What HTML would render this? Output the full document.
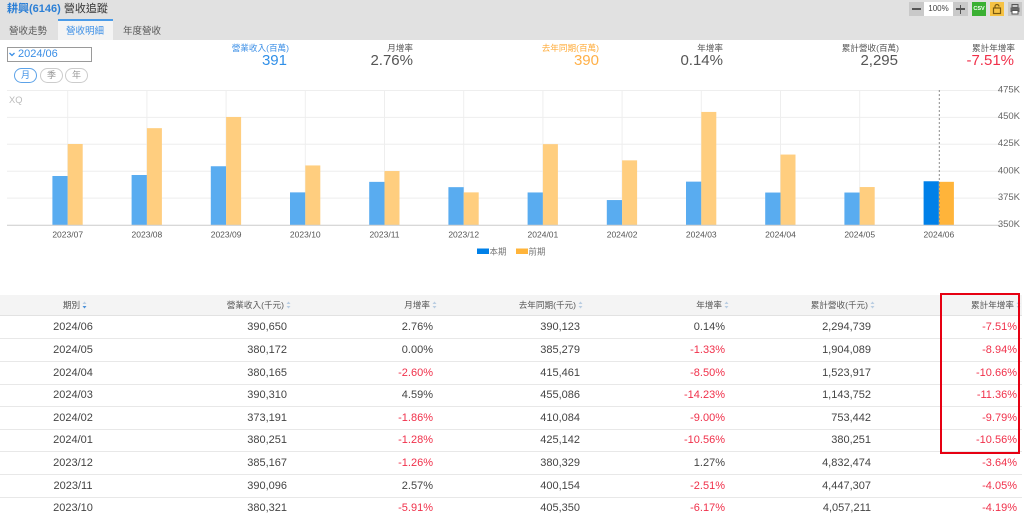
<!DOCTYPE html>
<html><head><meta charset="utf-8">
<style>
*{margin:0;padding:0;box-sizing:border-box}
html,body{width:1024px;height:518px;overflow:hidden;background:#fff}
body{position:relative;font-family:"Liberation Sans","Noto Sans CJK TC",sans-serif;color:#444}
.abs{position:absolute;white-space:nowrap}
.hdr{position:absolute;left:0;top:0;width:1024px;height:40px;background:#e1e1e1}
.lbl{position:absolute;font-size:8.6px;line-height:12px;text-align:right;width:160px;white-space:nowrap}
.val{position:absolute;font-size:15px;line-height:18px;text-align:right;width:160px;white-space:nowrap}
.row{position:absolute;left:0;width:1022px;height:22px;font-size:11px;line-height:22px}
.sep{position:absolute;left:0;width:1022px;height:1px;background:#e8e8e8}
.c{position:absolute;top:0;width:140px;text-align:right}
.r{color:#f0304a}
.th{position:absolute;top:0;width:160px;text-align:right;font-size:8.6px;line-height:21px;color:#555}
.si{display:inline-block;width:5px;height:8px;margin-left:2px;vertical-align:-1px}
.pill{position:absolute;top:68px;width:23px;height:15px;border:1px solid #ccc;border-radius:8px;font-size:9px;line-height:13px;text-align:center;color:#999}
</style></head><body>

<div class="hdr"></div>
<div class="abs" style="left:7px;top:2px;font-size:11px;line-height:14px"><span style="color:#2b7fd6;font-weight:bold">耕興(6146)</span> <span style="color:#333">營收追蹤</span></div>
<!-- tabs -->
<div class="abs" style="left:58px;top:19px;width:55px;height:21px;background:#f4f4f4;border-top:2px solid #4a9be8"></div>
<div class="abs" style="left:9px;top:25px;font-size:9.5px;line-height:13px;color:#555">營收走勢</div>
<div class="abs" style="left:66px;top:25px;font-size:9.5px;line-height:13px;color:#3a8ee6">營收明細</div>
<div class="abs" style="left:123px;top:25px;font-size:9.5px;line-height:13px;color:#555">年度營收</div>

<!-- toolbar -->
<div class="abs" style="left:909px;top:2px;width:15px;height:14px;background:#c9c9c9"></div>
<div class="abs" style="left:912px;top:8px;width:9px;height:1.5px;background:#555"></div>
<div class="abs" style="left:924px;top:2px;width:29px;height:14px;background:#fff;font-size:8px;line-height:14px;text-align:center;color:#444">100%</div>
<div class="abs" style="left:953px;top:2px;width:15px;height:14px;background:#c9c9c9"></div>
<div class="abs" style="left:956px;top:8.3px;width:9px;height:1.5px;background:#555"></div>
<div class="abs" style="left:959.8px;top:4.5px;width:1.5px;height:9px;background:#555"></div>
<div class="abs" style="left:972px;top:2px;width:14px;height:14px;background:#3bb033;color:#fff;font-size:5.5px;font-weight:bold;line-height:14px;text-align:center">CSV</div>
<div class="abs" style="left:990px;top:2px;width:14px;height:14px;background:#f6c244"></div>
<svg class="abs" style="left:990px;top:2px" width="14" height="14"><path d="M5 6V4.5a2 2 0 0 1 4 0" fill="none" stroke="#7a5a10" stroke-width="1.2"/><rect x="3.5" y="6" width="7" height="5.5" fill="none" stroke="#7a5a10" stroke-width="1.2"/></svg>
<div class="abs" style="left:1008px;top:2px;width:14px;height:14px;background:#c9c9c9"></div>
<svg class="abs" style="left:1008px;top:2px" width="14" height="14"><rect x="4" y="2.5" width="6" height="3" fill="none" stroke="#555"/><rect x="2.5" y="5.5" width="9" height="4.5" fill="#666"/><rect x="4" y="8.5" width="6" height="3.5" fill="#fff" stroke="#555"/></svg>

<!-- dropdown -->
<div class="abs" style="left:7px;top:47px;width:85px;height:15px;border:1px solid #9a9a9a;background:#fff"></div>
<svg class="abs" style="left:9px;top:52px" width="6" height="5"><path d="M0.5 1L3 3.5L5.5 1" fill="none" stroke="#3a8ee6" stroke-width="1.3"/></svg>
<div class="abs" style="left:18px;top:47px;font-size:11px;line-height:15px;color:#3a8ee6">2024/06</div>
<div class="pill" style="left:14px;border-color:#5ca2e8;color:#3a8ee6">月</div>
<div class="pill" style="left:40px">季</div>
<div class="pill" style="left:65px">年</div>

<!-- stats -->
<div class="lbl" style="left:129px;top:42px;color:#3a8ee6">營業收入(百萬)</div>
<div class="val" style="left:127px;top:52px;color:#2f8fe8">391</div>
<div class="lbl" style="left:253px;top:42px;color:#555">月增率</div>
<div class="val" style="left:253px;top:52px;color:#555">2.76%</div>
<div class="lbl" style="left:439px;top:42px;color:#ffac3a">去年同期(百萬)</div>
<div class="val" style="left:439px;top:52px;color:#ffb048">390</div>
<div class="lbl" style="left:563px;top:42px;color:#555">年增率</div>
<div class="val" style="left:563px;top:52px;color:#555">0.14%</div>
<div class="lbl" style="left:739px;top:42px;color:#555">累計營收(百萬)</div>
<div class="val" style="left:738px;top:52px;color:#555">2,295</div>
<div class="lbl" style="left:855px;top:42px;color:#555">累計年增率</div>
<div class="val" style="left:854px;top:52px;color:#f0304a">-7.51%</div>

<!-- chart -->
<svg class="abs" style="left:0;top:0" width="1024" height="260" font-family="Liberation Sans, Noto Sans CJK TC, sans-serif">
<g stroke="#eeeeee" stroke-width="1">
<line x1="7" y1="90.5" x2="1000" y2="90.5"/>
<line x1="7" y1="117.4" x2="1000" y2="117.4"/>
<line x1="7" y1="144.3" x2="1000" y2="144.3"/>
<line x1="7" y1="171.2" x2="1000" y2="171.2"/>
<line x1="7" y1="198.1" x2="1000" y2="198.1"/>
<line x1="67.7" y1="90" x2="67.7" y2="225"/>
<line x1="146.9" y1="90" x2="146.9" y2="225"/>
<line x1="226.1" y1="90" x2="226.1" y2="225"/>
<line x1="305.3" y1="90" x2="305.3" y2="225"/>
<line x1="384.5" y1="90" x2="384.5" y2="225"/>
<line x1="463.7" y1="90" x2="463.7" y2="225"/>
<line x1="542.9" y1="90" x2="542.9" y2="225"/>
<line x1="622.1" y1="90" x2="622.1" y2="225"/>
<line x1="701.3" y1="90" x2="701.3" y2="225"/>
<line x1="780.5" y1="90" x2="780.5" y2="225"/>
<line x1="859.7" y1="90" x2="859.7" y2="225"/>
</g>
<text x="9" y="103" font-size="9.3" fill="#bbb">XQ</text>
<g fill="#59acf0">
<rect x="52.4" y="176" width="15.3" height="49"/>
<rect x="131.6" y="175" width="15.3" height="50"/>
<rect x="210.8" y="166.25" width="15.3" height="58.75"/>
<rect x="290" y="192.37" width="15.3" height="32.63"/>
<rect x="369.2" y="181.86" width="15.3" height="43.14"/>
<rect x="448.4" y="187.16" width="15.3" height="37.84"/>
<rect x="527.6" y="192.45" width="15.3" height="32.55"/>
<rect x="606.8" y="200.05" width="15.3" height="24.95"/>
<rect x="686" y="181.63" width="15.3" height="43.37"/>
<rect x="765.2" y="192.54" width="15.3" height="32.46"/>
<rect x="844.4" y="192.53" width="15.3" height="32.47"/>
</g>
<rect x="923.6" y="181.26" width="15.3" height="43.74" fill="#0080e8"/>
<g fill="#ffce7f">
<rect x="67.7" y="143.98" width="15" height="81.02"/>
<rect x="146.9" y="128.16" width="15" height="96.84"/>
<rect x="226.1" y="116.97" width="15" height="108.03"/>
<rect x="305.3" y="165.44" width="15" height="59.56"/>
<rect x="384.5" y="171.03" width="15" height="53.97"/>
<rect x="463.7" y="192.37" width="15" height="32.63"/>
<rect x="542.9" y="144.15" width="15" height="80.85"/>
<rect x="622.1" y="160.35" width="15" height="64.65"/>
<rect x="701.3" y="111.93" width="15" height="113.07"/>
<rect x="780.5" y="154.56" width="15" height="70.44"/>
<rect x="859.7" y="187.04" width="15" height="37.96"/>
</g>
<rect x="938.9" y="181.82" width="15" height="43.18" fill="#ffb43a"/>
<line x1="939.3" y1="90" x2="939.3" y2="225" stroke="#8a8a8a" stroke-width="1" stroke-dasharray="2,2"/>
<line x1="7" y1="225.3" x2="1000" y2="225.3" stroke="#cccccc" stroke-width="1"/>
<g font-size="9.5" fill="#666" text-anchor="end">
<text x="1020" y="92.5">475K</text>
<text x="1020" y="119">450K</text>
<text x="1020" y="145.8">425K</text>
<text x="1020" y="173.5">400K</text>
<text x="1020" y="200.2">375K</text>
<text x="1020" y="226.8">350K</text>
</g>
<g font-size="8.5" fill="#555" text-anchor="middle">
<text x="67.7" y="237.5">2023/07</text>
<text x="146.9" y="237.5">2023/08</text>
<text x="226.1" y="237.5">2023/09</text>
<text x="305.3" y="237.5">2023/10</text>
<text x="384.5" y="237.5">2023/11</text>
<text x="463.7" y="237.5">2023/12</text>
<text x="542.9" y="237.5">2024/01</text>
<text x="622.1" y="237.5">2024/02</text>
<text x="701.3" y="237.5">2024/03</text>
<text x="780.5" y="237.5">2024/04</text>
<text x="859.7" y="237.5">2024/05</text>
<text x="938.9" y="237.5">2024/06</text>
</g>
<rect x="477" y="248.5" width="12" height="5.5" fill="#0080e8"/>
<text x="489.5" y="254.5" font-size="8.5" fill="#777">本期</text>
<rect x="516" y="248.5" width="12" height="5.5" fill="#ffb43a"/>
<text x="528.5" y="254.5" font-size="8.5" fill="#777">前期</text>
</svg>

<!-- table header -->
<div class="abs" style="left:0;top:295px;width:1022px;height:21px;background:#f4f4f4;border-bottom:1px solid #e2e2e2"></div>
<div class="abs" style="left:0;top:295px;width:1022px;height:21px">
<div class="th" style="left:0;width:150px;text-align:center">期別<svg class="si" viewBox="0 0 5 8"><path d="M2.5 0.5L4.5 3H0.5Z" fill="#b9cde2"/><path d="M2.5 7.5L4.5 5H0.5Z" fill="#4a90d9"/></svg></div>
<div class="th" style="left:131px">營業收入(千元)<svg class="si" viewBox="0 0 5 8"><path d="M2.5 0.5L4.5 3H0.5Z" fill="#b9cde2"/><path d="M2.5 7.5L4.5 5H0.5Z" fill="#b9cde2"/></svg></div>
<div class="th" style="left:277px">月增率<svg class="si" viewBox="0 0 5 8"><path d="M2.5 0.5L4.5 3H0.5Z" fill="#b9cde2"/><path d="M2.5 7.5L4.5 5H0.5Z" fill="#b9cde2"/></svg></div>
<div class="th" style="left:423px">去年同期(千元)<svg class="si" viewBox="0 0 5 8"><path d="M2.5 0.5L4.5 3H0.5Z" fill="#b9cde2"/><path d="M2.5 7.5L4.5 5H0.5Z" fill="#b9cde2"/></svg></div>
<div class="th" style="left:569px">年增率<svg class="si" viewBox="0 0 5 8"><path d="M2.5 0.5L4.5 3H0.5Z" fill="#b9cde2"/><path d="M2.5 7.5L4.5 5H0.5Z" fill="#b9cde2"/></svg></div>
<div class="th" style="left:715px">累計營收(千元)<svg class="si" viewBox="0 0 5 8"><path d="M2.5 0.5L4.5 3H0.5Z" fill="#b9cde2"/><path d="M2.5 7.5L4.5 5H0.5Z" fill="#b9cde2"/></svg></div>
<div class="th" style="left:861px">累計年增率<svg class="si" viewBox="0 0 5 8"><path d="M2.5 0.5L4.5 3H0.5Z" fill="#b9cde2"/><path d="M2.5 7.5L4.5 5H0.5Z" fill="#b9cde2"/></svg></div>
</div>

<!-- rows -->
<div class="row" style="top:316.3px"><div class="c" style="left:0;width:146px;text-align:center">2024/06</div><div class="c" style="left:147px">390,650</div><div class="c" style="left:293px">2.76%</div><div class="c" style="left:440px">390,123</div><div class="c" style="left:585px">0.14%</div><div class="c" style="left:731px">2,294,739</div><div class="c r" style="left:877px">-7.51%</div></div>
<div class="sep" style="top:338.3px"></div>
<div class="row" style="top:338.9px"><div class="c" style="left:0;width:146px;text-align:center">2024/05</div><div class="c" style="left:147px">380,172</div><div class="c" style="left:293px">0.00%</div><div class="c" style="left:440px">385,279</div><div class="c r" style="left:585px">-1.33%</div><div class="c" style="left:731px">1,904,089</div><div class="c r" style="left:877px">-8.94%</div></div>
<div class="sep" style="top:360.9px"></div>
<div class="row" style="top:361.5px"><div class="c" style="left:0;width:146px;text-align:center">2024/04</div><div class="c" style="left:147px">380,165</div><div class="c r" style="left:293px">-2.60%</div><div class="c" style="left:440px">415,461</div><div class="c r" style="left:585px">-8.50%</div><div class="c" style="left:731px">1,523,917</div><div class="c r" style="left:877px">-10.66%</div></div>
<div class="sep" style="top:383.5px"></div>
<div class="row" style="top:384.1px"><div class="c" style="left:0;width:146px;text-align:center">2024/03</div><div class="c" style="left:147px">390,310</div><div class="c" style="left:293px">4.59%</div><div class="c" style="left:440px">455,086</div><div class="c r" style="left:585px">-14.23%</div><div class="c" style="left:731px">1,143,752</div><div class="c r" style="left:877px">-11.36%</div></div>
<div class="sep" style="top:406.1px"></div>
<div class="row" style="top:406.7px"><div class="c" style="left:0;width:146px;text-align:center">2024/02</div><div class="c" style="left:147px">373,191</div><div class="c r" style="left:293px">-1.86%</div><div class="c" style="left:440px">410,084</div><div class="c r" style="left:585px">-9.00%</div><div class="c" style="left:731px">753,442</div><div class="c r" style="left:877px">-9.79%</div></div>
<div class="sep" style="top:428.7px"></div>
<div class="row" style="top:429.3px"><div class="c" style="left:0;width:146px;text-align:center">2024/01</div><div class="c" style="left:147px">380,251</div><div class="c r" style="left:293px">-1.28%</div><div class="c" style="left:440px">425,142</div><div class="c r" style="left:585px">-10.56%</div><div class="c" style="left:731px">380,251</div><div class="c r" style="left:877px">-10.56%</div></div>
<div class="sep" style="top:451.3px"></div>
<div class="row" style="top:451.9px"><div class="c" style="left:0;width:146px;text-align:center">2023/12</div><div class="c" style="left:147px">385,167</div><div class="c r" style="left:293px">-1.26%</div><div class="c" style="left:440px">380,329</div><div class="c" style="left:585px">1.27%</div><div class="c" style="left:731px">4,832,474</div><div class="c r" style="left:877px">-3.64%</div></div>
<div class="sep" style="top:473.9px"></div>
<div class="row" style="top:474.5px"><div class="c" style="left:0;width:146px;text-align:center">2023/11</div><div class="c" style="left:147px">390,096</div><div class="c" style="left:293px">2.57%</div><div class="c" style="left:440px">400,154</div><div class="c r" style="left:585px">-2.51%</div><div class="c" style="left:731px">4,447,307</div><div class="c r" style="left:877px">-4.05%</div></div>
<div class="sep" style="top:496.5px"></div>
<div class="row" style="top:497.1px"><div class="c" style="left:0;width:146px;text-align:center">2023/10</div><div class="c" style="left:147px">380,321</div><div class="c r" style="left:293px">-5.91%</div><div class="c" style="left:440px">405,350</div><div class="c r" style="left:585px">-6.17%</div><div class="c" style="left:731px">4,057,211</div><div class="c r" style="left:877px">-4.19%</div></div>

<!-- red highlight box -->
<div class="abs" style="left:940px;top:293px;width:80px;height:161px;border:2px solid #e60012"></div>

</body></html>
